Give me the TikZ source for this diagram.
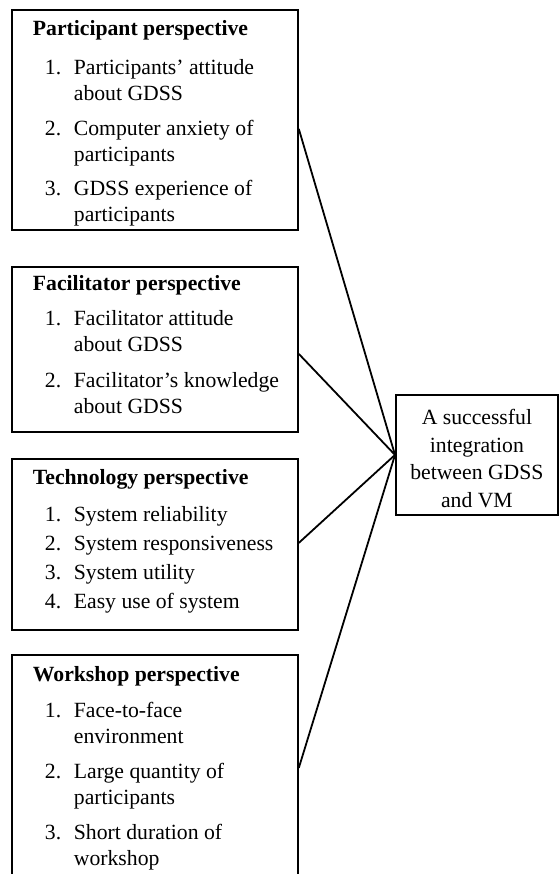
\documentclass[tikz,border=0pt]{standalone}
\usepackage{fontspec}
\setmainfont{Liberation Serif}
\setlength{\parindent}{0pt}
\newcommand{\hd}[1]{\hspace*{9pt}\textbf{#1}}
\newcommand{\nr}[1]{\hspace*{21pt}\makebox[29pt][l]{#1}}
\newcommand{\cont}{\hspace*{50pt}}

\begin{document}
\begin{tikzpicture}[x=1pt,y=-1pt,
    persp/.style={draw, line width=1.8pt, anchor=north west, text width=262pt,
        inner xsep=12pt, inner ysep=0pt, align=flush left,
        font=\fontsize{21.7}{26}\selectfont},
    goal/.style={draw, line width=1.8pt, anchor=north west, minimum width=162pt,
        minimum height=120pt, inner sep=0pt, align=center,
        font=\fontsize{21.7}{27.5}\selectfont},
    link/.style={line width=1.8pt}]
    \useasboundingbox (0,0) rectangle (559,874);
    \clip (0,0) rectangle (559,874);

    % the four perspectives
    \node[persp, minimum height=220pt] (part) at (11,9) {\rule{0pt}{21pt}\hd{Participant perspective}\\[13pt]
        \nr{1.}Participants’ attitude\\
        \cont about GDSS\\[9pt]
        \nr{2.}Computer anxiety of\\
        \cont participants\\[8pt]
        \nr{3.}GDSS experience of\\
        \cont participants};
    \node[persp, minimum height=165pt] (fac) at (11,266) {\hd{Facilitator perspective}\\[9pt]
        \nr{1.}Facilitator attitude\\
        \cont about GDSS\\[10pt]
        \nr{2.}Facilitator’s knowledge\\
        \cont about GDSS\rule[-9.5pt]{0pt}{9.5pt}};
    \node[persp, minimum height=171pt] (tech) at (11,458) {\hd{Technology perspective}\\[11pt]
        \nr{1.}System reliability\\[3pt]
        \nr{2.}System responsiveness\\[3pt]
        \nr{3.}System utility\\[3pt]
        \nr{4.}Easy use of system\rule[-11pt]{0pt}{11pt}};
    \node[persp, minimum height=226pt] (work) at (11,654) {\hd{Workshop perspective}\\[10pt]
        \nr{1.}Face-to-face\\
        \cont environment\\[9pt]
        \nr{2.}Large quantity of\\
        \cont participants\\[9pt]
        \nr{3.}Short duration of\\
        \cont workshop};

    % outcome
    \node[goal] (goal) at (395,394) {\rule{0pt}{23pt}A successful\\ integration\\ between GDSS\\ and VM};

    \foreach \n/\s in {part/-9pt, fac/-4.5pt, tech/1.5pt, work/0pt}
        \draw[link] ([yshift=\s]\n.east) -- (goal.west);
\end{tikzpicture}
\end{document}
